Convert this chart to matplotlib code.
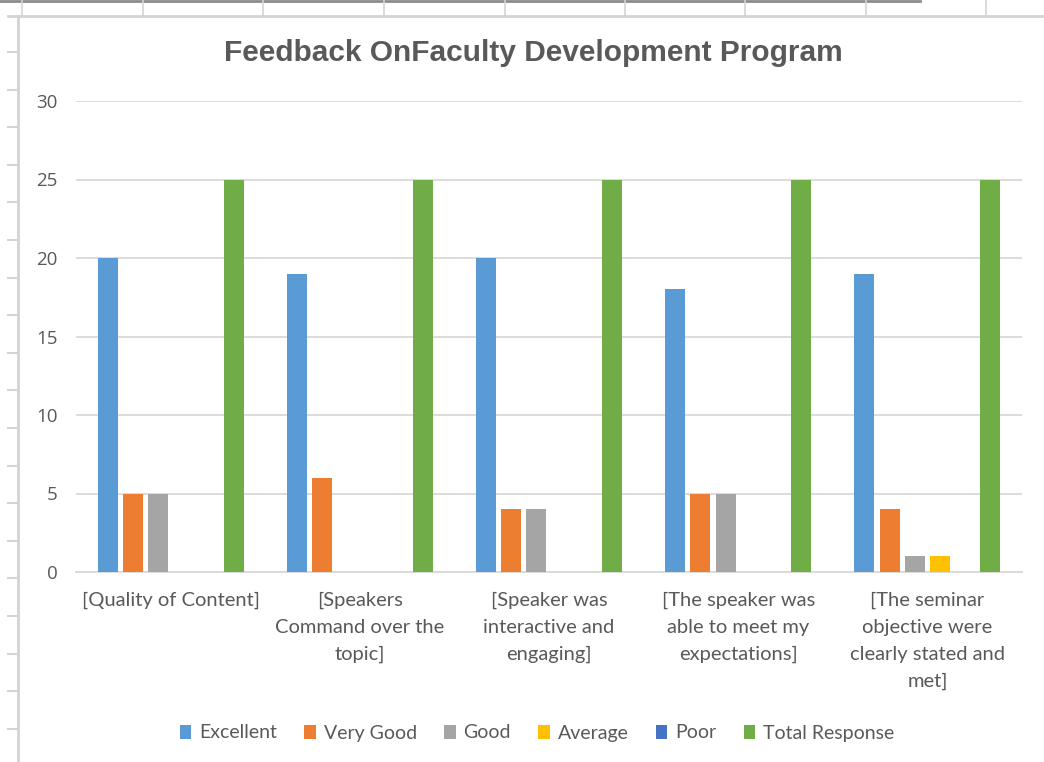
import matplotlib
matplotlib.use("Agg")
import matplotlib.pyplot as plt
from matplotlib.patches import Patch
from matplotlib.lines import Line2D
import numpy as np

categories = [
    "[Quality of Content]",
    "[Speakers\nCommand over the\ntopic]",
    "[Speaker was\ninteractive and\nengaging]",
    "[The speaker was\nable to meet my\nexpectations]",
    "[The seminar\nobjective were\nclearly stated and\nmet]",
]
series_names = ["Excellent", "Very Good", "Good", "Average", "Poor", "Total Response"]
excellent = [20, 19, 20, 18, 19]
very_good = [5, 6, 4, 5, 4]
good = [5, 0, 4, 5, 1]
average = [0, 0, 0, 0, 1]
poor = [0, 0, 0, 0, 0]
total_response = [25, 25, 25, 25, 25]
colors = ["#5B9BD5", "#ED7D31", "#A5A5A5", "#FFC000", "#4472C4", "#70AD47"]
title = "Feedback OnFaculty Development Program"
yticks = [0, 5, 10, 15, 20, 25, 30]

W, H = 1044, 762
fig = plt.figure(figsize=(W / 100, H / 100), dpi=100)
fig.patch.set_facecolor("white")

# spreadsheet decorations around the chart
grid_c = "#D4D4D4"
fig.add_artist(Line2D([0, 920 / W], [1 - 1 / H, 1 - 1 / H], color="#8C8C8C", lw=2))
fig.add_artist(Line2D([8 / W, 1], [1 - 16 / H, 1 - 16 / H], color=grid_c, lw=2))
for xc in [22, 143, 263, 384, 505, 625, 745, 866, 986]:
    fig.add_artist(Line2D([xc / W, xc / W], [1 - 16 / H, 1], color=grid_c, lw=1.2))
fig.add_artist(Line2D([18 / W, 18 / W], [0, 1 - 16 / H], color=grid_c, lw=2))
for yr in np.arange(52, 762, 37.6):
    fig.add_artist(Line2D([8 / W, 18 / W], [1 - yr / H, 1 - yr / H], color=grid_c, lw=1.5))

ax = fig.add_axes([76 / W, 1 - 572 / H, (1022 - 76) / W, (572 - 101) / H])
ax.set_facecolor("white")

values = [excellent, very_good, good, average, poor, total_response]
x = np.arange(len(categories))
slot = 0.1333
bw = 0.106
for i, (vals, c) in enumerate(zip(values, colors)):
    off = (i - 2.5) * slot
    ax.bar(x + off, vals, width=bw, color=c, zorder=3)

ax.set_xlim(-0.5, len(categories) - 0.5)
ax.set_ylim(0, 30)
ax.set_yticks(yticks)
ax.yaxis.grid(True, color="#D9D9D9", lw=1.3, zorder=0)
for s in ["top", "right", "left"]:
    ax.spines[s].set_visible(False)
ax.spines["bottom"].set_color("#D9D9D9")
ax.spines["bottom"].set_linewidth(1.3)
ax.tick_params(axis="both", length=0, colors="#595959")
ax.tick_params(axis="y", pad=13, labelsize=13.5)
ax.set_xticks(x)
ax.set_xticklabels(categories, fontsize=14.5, family="Lato", color="#595959",
                   linespacing=1.72, va="top")
ax.tick_params(axis="x", pad=14)
for lab in ax.get_yticklabels():
    lab.set_family("Open Sans")

fig.text(533 / W, 1 - 53 / H, title, ha="center", va="center", fontsize=21.5,
         fontweight="bold", family="Liberation Sans", color="#595959")

handles = [Patch(facecolor=c, edgecolor="none") for c in colors]
leg = fig.legend(handles, series_names, loc="center", bbox_to_anchor=(537 / W, 1 - 733 / H),
                 ncol=6, frameon=False, handlelength=0.6, handleheight=0.7,
                 handletextpad=0.4, columnspacing=1.4,
                 prop={"family": "Lato", "size": 14})
for t in leg.get_texts():
    t.set_color("#595959")

fig.savefig("out.png", dpi=100, facecolor="white")
